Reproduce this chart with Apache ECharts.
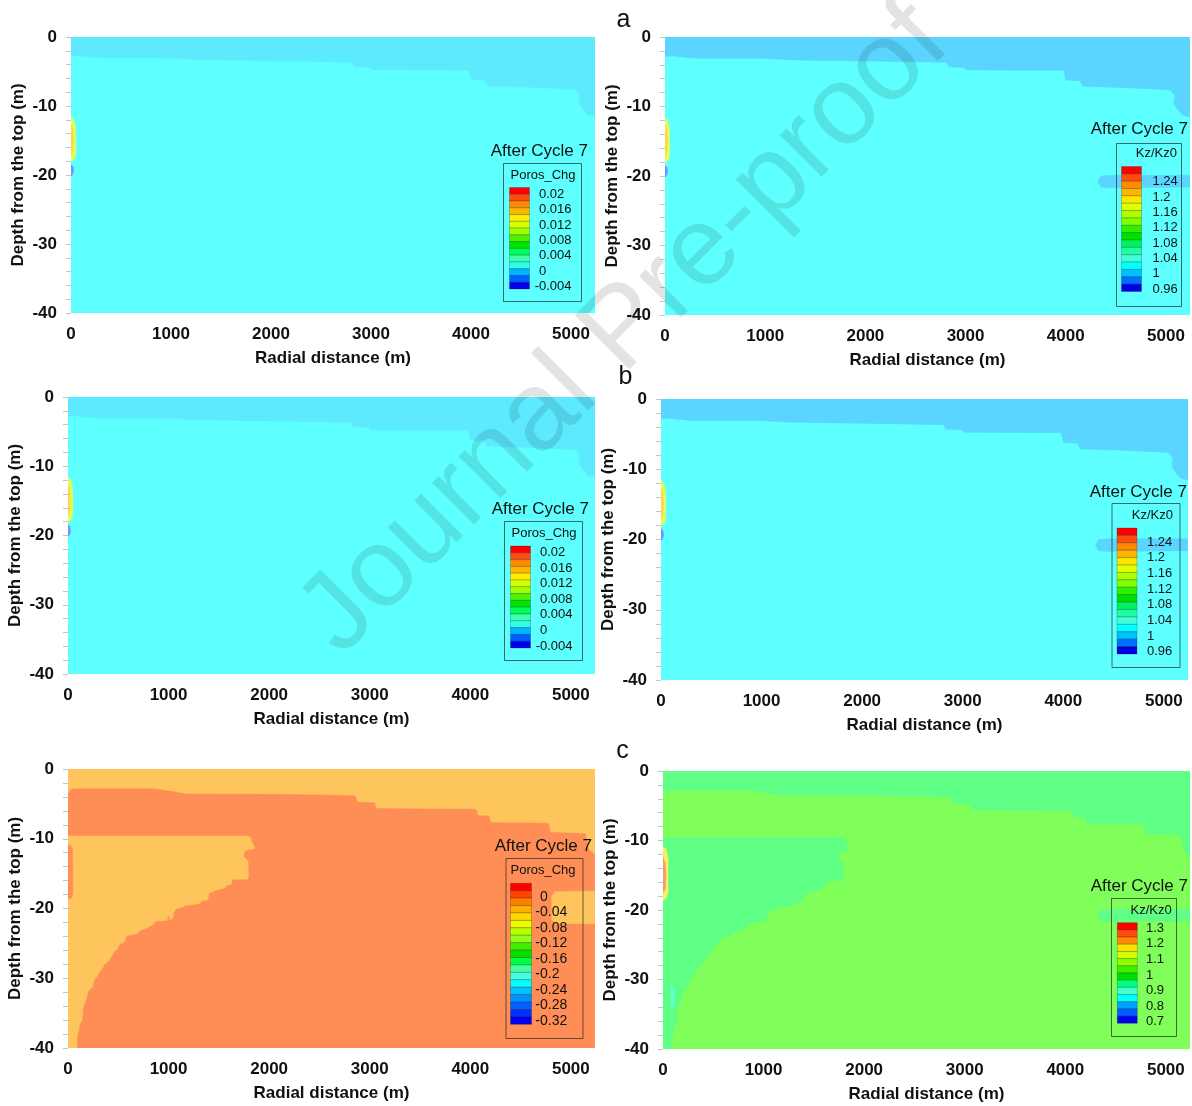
<!DOCTYPE html>
<html>
<head>
<meta charset="utf-8">
<script src="https://cdn.jsdelivr.net/npm/echarts@6/dist/echarts.min.js"></script>
<style>
  html, body { margin: 0; padding: 0; background: #ffffff; }
  #chart { width: 1192px; height: 1106px; }
</style>
</head>
<body>
<div id="chart"></div>
<script>
// ---------------------------------------------------------------
// Axis values
// ---------------------------------------------------------------
const X_MAX = 5240;                       // radial extent of the model (m)
const Y_MIN = -40;                        // model depth (m)
const xLabelValues = [0, 1000, 2000, 3000, 4000, 5000];
const yLabelValues = [-40, -30, -20, -10, 0];
const xTickValues = [0, 200, 400, 600, 800, 1000, 1200, 1400, 1600, 1800, 2000, 2200, 2400, 2600,
  2800, 3000, 3200, 3400, 3600, 3800, 4000, 4200, 4400, 4600, 4800, 5000, 5200];
const yTickValues = [-40, -38, -36, -34, -32, -30, -28, -26, -24, -22, -20, -18, -16, -14, -12,
  -10, -8, -6, -4, -2, 0];

// ---------------------------------------------------------------
// Contour zones, as [radial distance (m), depth (m)] outlines
// ---------------------------------------------------------------
// cases a & b: lower edge of the shallow layer
const topLayerAB = [[0, -2.85], [50, -2.7], [280, -3.05], [950, -3.05], [1280, -3.3], [1950, -3.45],
  [2810, -3.65], [2830, -4.3], [2990, -4.4], [3010, -4.75], [3980, -4.8], [4000, -6.2], [4140, -6.3],
  [4170, -7.1], [4600, -7.3], [5040, -7.6], [5090, -8.4], [5080, -9.6], [5120, -10.5], [5170, -11.3],
  [5240, -11.5]];
// cases a & b (and c, Kz): thin far-field band near -21 m
const farBandKz = [[4320, -20.8], [4350, -20.0], [4450, -19.9], [5240, -19.9], [5240, -21.6],
  [4450, -21.7], [4350, -21.6]];
// cases a & b: zones at the well screen
const wellHaloAB = [[0, -11.6], [25, -11.9], [42, -12.8], [48, -14.5], [48, -16.5], [40, -17.5],
  [22, -17.9], [0, -18.0]];
const wellCoreAB = [[0, -12.6], [18, -13.2], [26, -14.8], [20, -16.6], [0, -17.1]];
const wellLowAB = [[0, -18.5], [18, -18.7], [26, -19.3], [18, -19.9], [0, -20.1]];

// case c: lower edge of the shallow layer
const topLayerC = [[0, -3.5], [20, -2.95], [60, -2.75], [860, -2.75], [1180, -3.5], [2300, -3.6],
  [2860, -3.75], [2880, -4.7], [3050, -4.75], [3070, -5.6], [4060, -5.7], [4080, -6.6], [4190, -6.65],
  [4210, -7.6], [4780, -7.7], [4800, -9.0], [5150, -9.2], [5180, -11.5], [5240, -12.2]];
// case c: zone below -10 m spreading from the well
const wedgeC = [[0, -9.6], [1790, -9.6], [1815, -9.8], [1830, -10.6], [1860, -11.3], [1830, -11.5],
  [1755, -11.7], [1745, -12.5], [1790, -13.2], [1795, -15.5], [1780, -15.8], [1630, -15.8],
  [1625, -16.5], [1574, -16.7], [1560, -17.1], [1508, -17.2], [1400, -17.8], [1392, -18.7],
  [1330, -18.9], [1309, -19.3], [1160, -19.6], [1143, -19.8], [1077, -20.0], [1050, -20.6],
  [1040, -21.4], [1011, -21.6], [1005, -20.9], [990, -21.2], [985, -21.7], [878, -21.8], [840, -22.3],
  [812, -22.6], [712, -23.2], [690, -23.6], [580, -23.9], [563, -24.8], [514, -25.1], [490, -25.8],
  [464, -26.1], [431, -26.9], [400, -27.6], [364, -28.0], [330, -28.8], [315, -29.0], [290, -29.8],
  [265, -30.1], [240, -31.3], [199, -31.9], [180, -33.0], [149, -34.2], [140, -36.0], [115, -36.6],
  [109, -37.2], [89, -38.5], [89, -40], [0, -40]];
const wellSliverC = [[0, -10.9], [30, -11.0], [45, -11.6], [48, -17.8], [35, -18.5], [0, -18.6]];
const farBandPorosC = [[4810, -18.2], [4840, -17.6], [5240, -17.5], [5240, -22.2], [4840, -22.1],
  [4810, -21.6]];
const wellHaloC = [[0, -10.9], [30, -11.2], [50, -12.5], [50, -17.5], [30, -18.4], [0, -18.6]];
const wellCoreC = [[0, -12.4], [22, -13.2], [30, -15.0], [22, -17.0], [0, -17.5]];
const lowSpotC = [[80, -30.8], [108, -31.2], [115, -32.5], [108, -33.8], [85, -34.0], [78, -32.5]];

// ---------------------------------------------------------------
// Colour-bar levels
// ---------------------------------------------------------------
const porosLevelsAB = ['0.02', '0.016', '0.012', '0.008', '0.004', '0', '-0.004'];
const kzLevelsAB = ['1.24', '1.2', '1.16', '1.12', '1.08', '1.04', '1', '0.96'];
const porosLevelsC = ['0', '-0.04', '-0.08', '-0.12', '-0.16', '-0.2', '-0.24', '-0.28', '-0.32'];
const kzLevelsC = ['1.3', '1.2', '1.1', '1', '0.9', '0.8', '0.7'];

const porosBandsAB = ['#ff0000', '#ff4a10', '#ff8a00', '#ffb400', '#ffec00', '#d4ff00', '#a0ff00',
  '#50f000', '#00e400', '#00ff55', '#40ffb0', '#30ffe8', '#00b4ff', '#0060ff', '#0000ee'];
const kzBandsAB = ['#ff0000', '#ff4a10', '#ff8a00', '#ffb400', '#ffe600', '#e0ff00', '#b0ff00',
  '#80ff00', '#30f000', '#00e000', '#00f060', '#20ffa0', '#40ffd8', '#00ffff', '#00c0ff', '#0070ff',
  '#0000e0'];
const porosBandsC = ['#ff0000', '#ff4500', '#ff8000', '#ffb000', '#ffd800', '#e8ff00', '#b8ff00',
  '#90ff20', '#40f000', '#00e000', '#00ff40', '#40ffa0', '#40ffe0', '#00ffff', '#00c0ff', '#0090ff',
  '#0060ff', '#0030ff', '#0000ee'];
const kzBandsC = ['#ff0000', '#ff4a10', '#ff8a00', '#ffe000', '#d0ff00', '#90ff00', '#40f000',
  '#00e000', '#00ff80', '#40ffd0', '#00ffff', '#00a0ff', '#0060ff', '#0000ee'];

// ---------------------------------------------------------------
const FONT = '"Liberation Sans", Arial, Helvetica, sans-serif';
const full = [[0, 0], [X_MAX, 0], [X_MAX, Y_MIN], [0, Y_MIN]];
// polygon from the surface down to a layer's lower edge
function fromSurface(edge) {
  return [[0, 0], [X_MAX, 0]].concat(edge.slice().reverse());
}

const panels = [
  { grid: { left: 71, top: 37, width: 524, height: 276 },
    zones: [
      { pts: full, color: '#5effff' },
      { pts: fromSurface(topLayerAB), color: '#5deaff' },
      { pts: wellHaloAB, color: '#e2ff58' },
      { pts: wellCoreAB, color: '#ffd84a' },
      { pts: wellLowAB, color: '#7094ff' }
    ] },
  { grid: { left: 665, top: 37, width: 525, height: 278 },
    zones: [
      { pts: full, color: '#5effff' },
      { pts: fromSurface(topLayerAB), color: '#5ad5ff' },
      { pts: farBandKz, color: '#5ad5ff' },
      { pts: wellHaloAB, color: '#e2ff58' },
      { pts: wellCoreAB, color: '#ffd84a' },
      { pts: wellLowAB, color: '#7094ff' }
    ] },
  { grid: { left: 68, top: 397, width: 527, height: 277 },
    zones: [
      { pts: full, color: '#5effff' },
      { pts: fromSurface(topLayerAB), color: '#5deaff' },
      { pts: wellHaloAB, color: '#e2ff58' },
      { pts: wellCoreAB, color: '#ffd84a' },
      { pts: wellLowAB, color: '#7094ff' }
    ] },
  { grid: { left: 661, top: 399, width: 527, height: 281 },
    zones: [
      { pts: full, color: '#5effff' },
      { pts: fromSurface(topLayerAB), color: '#5ad5ff' },
      { pts: farBandKz, color: '#5ad5ff' },
      { pts: wellHaloAB, color: '#e2ff58' },
      { pts: wellCoreAB, color: '#ffd84a' },
      { pts: wellLowAB, color: '#7094ff' }
    ] },
  { grid: { left: 68, top: 769, width: 527, height: 279 },
    zones: [
      { pts: full, color: '#fe8e56' },
      { pts: fromSurface(topLayerC), color: '#fec55c' },
      { pts: wedgeC, color: '#fec55c' },
      { pts: wellSliverC, color: '#fe8e56' },
      { pts: farBandPorosC, color: '#fec55c' }
    ] },
  { grid: { left: 663, top: 771, width: 527, height: 278 },
    zones: [
      { pts: full, color: '#80ff5a' },
      { pts: fromSurface(topLayerC), color: '#5eff84' },
      { pts: wedgeC, color: '#5eff84' },
      { pts: farBandKz, color: '#5eff84' },
      { pts: wellHaloC, color: '#f4f060' },
      { pts: wellCoreC, color: '#f89a70' },
      { pts: lowSpotC, color: '#60ffd8' }
    ] }
];

const legends = [
  { cycle: [588, 151], box: [503.5, 163.5, 78, 138], title: 'Poros_Chg', titleAt: [543, 175.5, 'center'],
    bar: [509.5, 187.5, 20, 101.5], bands: porosBandsAB, levels: porosLevelsAB,
    labelX: 539, labelY0: 194.3, labelStep: 15.4, fs: 13 },
  { cycle: [1188, 129], box: [1116.5, 143.5, 65, 163], title: 'Kz/Kz0', titleAt: [1177, 153.5, 'right'],
    bar: [1121.5, 166.5, 20, 125], bands: kzBandsAB, levels: kzLevelsAB,
    labelX: 1152.5, labelY0: 181.7, labelStep: 15.33, fs: 13 },
  { cycle: [589, 509], box: [504.5, 521.5, 78, 139], title: 'Poros_Chg', titleAt: [544, 533.5, 'center'],
    bar: [510.5, 546, 20, 102], bands: porosBandsAB, levels: porosLevelsAB,
    labelX: 540, labelY0: 552.5, labelStep: 15.6, fs: 13 },
  { cycle: [1187, 492], box: [1112, 503.5, 68, 164], title: 'Kz/Kz0', titleAt: [1173, 515, 'right'],
    bar: [1117, 528, 20, 126], bands: kzBandsAB, levels: kzLevelsAB,
    labelX: 1147, labelY0: 542, labelStep: 15.7, fs: 13 },
  { cycle: [592, 846.7], box: [506, 858.5, 77, 180], title: 'Poros_Chg', titleAt: [543, 870, 'center'],
    bar: [510.5, 883.3, 21, 141], bands: porosBandsC, levels: porosLevelsC,
    labelX: 540, labelY0: 896.7, labelStep: 15.5, fs: 14 },
  { cycle: [1188, 886.7], box: [1111.5, 898.5, 65, 138], title: 'Kz/Kz0', titleAt: [1171.7, 910, 'right'],
    bar: [1117.3, 922.7, 20, 100.6], bands: kzBandsC, levels: kzLevelsC,
    labelX: 1146, labelY0: 928.3, labelStep: 15.57, fs: 13 }
];

function legendGraphics(L) {
  const out = [];
  out.push({ type: 'text', x: L.cycle[0], y: L.cycle[1], z: 20,
    style: { text: 'After Cycle 7', fill: '#111', font: '17px ' + FONT, textAlign: 'right', textVerticalAlign: 'middle' } });
  out.push({ type: 'rect', z: 20, shape: { x: L.box[0], y: L.box[1], width: L.box[2], height: L.box[3] },
    style: { fill: 'none', stroke: 'rgba(40,40,40,0.7)', lineWidth: 1 } });
  out.push({ type: 'text', x: L.titleAt[0], y: L.titleAt[1], z: 20,
    style: { text: L.title, fill: '#111', font: '13px ' + FONT, textAlign: L.titleAt[2], textVerticalAlign: 'middle' } });
  const n = L.bands.length;
  const h = L.bar[3] / n;
  L.bands.forEach(function (c, i) {
    out.push({ type: 'rect', z: 20,
      shape: { x: L.bar[0], y: L.bar[1] + i * h, width: L.bar[2], height: h },
      style: { fill: c, stroke: 'rgba(0,0,0,0.35)', lineWidth: 0.6 } });
  });
  L.levels.forEach(function (t, i) {
    const neg = t.charAt(0) === '-';
    out.push({ type: 'text', z: 20, x: L.labelX - (neg ? L.fs * 0.333 : 0), y: L.labelY0 + i * L.labelStep,
      style: { text: t, fill: '#111', font: L.fs + 'px ' + FONT, textAlign: 'left', textVerticalAlign: 'middle' } });
  });
  return out;
}

const axisFont = { fontFamily: FONT, fontSize: 17, fontWeight: 'bold', color: '#111' };
const plainNumber = function (v) { return String(v); };

const option = {
  animation: false,
  backgroundColor: '#ffffff',
  grid: panels.map(p => Object.assign({ containLabel: false }, p.grid)),
  xAxis: panels.map((p, i) => ({
    type: 'value', gridIndex: i, min: 0, max: X_MAX,
    name: 'Radial distance (m)', nameLocation: 'middle', nameGap: 37,
    nameTextStyle: axisFont,
    axisLine: { show: false },
    axisTick: { show: true, length: 5, customValues: xTickValues, lineStyle: { color: '#c4c4c4', width: 1 } },
    axisLabel: Object.assign({ customValues: xLabelValues, margin: 13, formatter: plainNumber }, axisFont),
    splitLine: { show: false }
  })),
  yAxis: panels.map((p, i) => ({
    type: 'value', gridIndex: i, min: Y_MIN, max: 0,
    name: 'Depth from the top (m)', nameLocation: 'middle', nameGap: 44,
    nameTextStyle: axisFont,
    axisLine: { show: false },
    axisTick: { show: true, length: 5, customValues: yTickValues, lineStyle: { color: '#c4c4c4', width: 1 } },
    axisLabel: Object.assign({ customValues: yLabelValues, margin: 14, formatter: plainNumber }, axisFont),
    splitLine: { show: false }
  })),
  series: panels.map((p, i) => ({
    type: 'custom',
    coordinateSystem: 'cartesian2d',
    xAxisIndex: i, yAxisIndex: i,
    silent: true,
    clip: true,
    data: p.zones.map((z, k) => [k, 0]),
    renderItem: function (params, api) {
      const zone = p.zones[params.dataIndex];
      return {
        type: 'polygon',
        shape: { points: zone.pts.map(pt => api.coord(pt)) },
        style: { fill: zone.color, stroke: zone.color, lineWidth: 0.5 }
      };
    }
  })),
  graphic: [].concat(
    legends.map(legendGraphics).reduce((a, b) => a.concat(b), []),
    [
      { type: 'text', x: 623.5, y: 20.5, z: 30, style: { text: 'a', fill: '#111', font: '25px ' + FONT, textAlign: 'center', textVerticalAlign: 'middle' } },
      { type: 'text', x: 625.5, y: 377.5, z: 30, style: { text: 'b', fill: '#111', font: '25px ' + FONT, textAlign: 'center', textVerticalAlign: 'middle' } },
      { type: 'text', x: 622.5, y: 751.5, z: 30, style: { text: 'c', fill: '#111', font: '25px ' + FONT, textAlign: 'center', textVerticalAlign: 'middle' } },
      { type: 'text', x: 625, y: 330, z: 40, rotation: Math.PI / 4, silent: true,
        style: { text: 'Journal Pre-proof', fill: 'rgba(0,0,0,0.11)', font: '112px ' + FONT, textAlign: 'center', textVerticalAlign: 'middle' } }
    ]
  )
};

const chart = echarts.init(document.getElementById('chart'), null, { renderer: 'canvas' });
chart.setOption(option);
</script>
</body>
</html>
